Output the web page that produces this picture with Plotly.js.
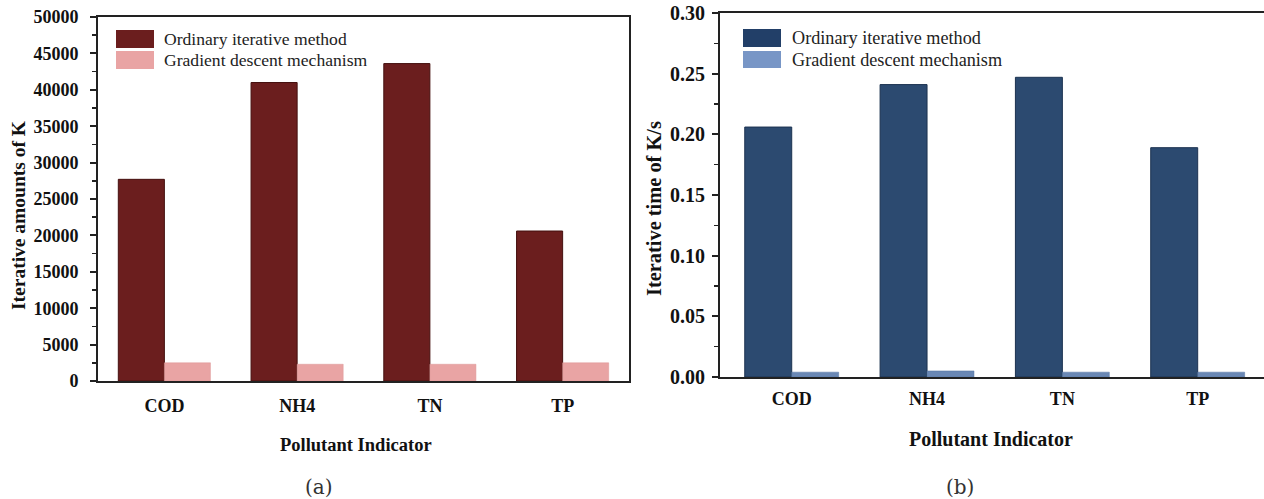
<!DOCTYPE html>
<html>
<head>
<meta charset="utf-8">
<script src="https://cdn.plot.ly/plotly-3.0.1.min.js"></script>
<style>
  html, body { margin: 0; padding: 0; background: #ffffff; overflow: hidden; }
  #chart { width: 1264px; height: 499px; }
</style>
</head>
<body>
<div id="chart"></div>
<script>
// ---------- data ----------
const categories = ['COD', 'NH4', 'TN', 'TP'];
const seriesNames = ['Ordinary iterative method', 'Gradient descent mechanism'];
const iterOrdinary = [27700, 41000, 43600, 20600];
const iterGradient = [2500, 2300, 2300, 2500];
const timeOrdinary = [0.206, 0.241, 0.247, 0.189];
const timeGradient = [0.004, 0.005, 0.004, 0.004];
const xTitle = 'Pollutant Indicator';
const yTitleA = 'Iterative amounts of K';
const yTitleB = 'Iterative time of K/s';
const panelLabels = ['(a)', '(b)'];

// ---------- geometry helpers (pixels -> paper) ----------
const W = 1264, H = 499;
const px = x => x / W;
const py = y => (H - y) / H;

const serif = "'Liberation Serif', 'Times New Roman', serif";
const colors = {
  redDark: '#6b1e1e', redDarkLine: '#45100f',
  pink: '#e9a4a4', pinkLine: '#dc9696',
  navy: '#2c4a70', navyLine: '#1c3250',
  blue: '#6a88b5', blueLine: '#5574a2'
};

const traces = [
  { type: 'bar', x: categories, y: iterOrdinary, name: seriesNames[0], xaxis: 'x', yaxis: 'y',
    marker: { color: colors.redDark, line: { color: colors.redDarkLine, width: 1 } }, showlegend: false },
  { type: 'bar', x: categories, y: iterGradient, name: seriesNames[1], xaxis: 'x', yaxis: 'y',
    marker: { color: colors.pink, line: { color: colors.pinkLine, width: 0.5 } }, showlegend: false },
  { type: 'bar', x: categories, y: timeOrdinary, name: seriesNames[0], xaxis: 'x2', yaxis: 'y2',
    marker: { color: colors.navy, line: { color: colors.navyLine, width: 1 } }, showlegend: false },
  { type: 'bar', x: categories, y: timeGradient, name: seriesNames[1], xaxis: 'x2', yaxis: 'y2',
    marker: { color: colors.blue, line: { color: colors.blueLine, width: 0.5 } }, showlegend: false }
];

const axisLine = { showline: true, linecolor: '#222', linewidth: 2, showgrid: false, zeroline: false };

const layout = {
  width: W, height: H,
  margin: { l: 0, r: 0, t: 0, b: 0 },
  paper_bgcolor: '#ffffff', plot_bgcolor: '#ffffff',
  barmode: 'group', bargap: 0.306, bargroupgap: 0,
  showlegend: false,
  xaxis: Object.assign({}, axisLine, {
    domain: [px(98), px(629)], anchor: 'y', range: [-0.5, 3.5], mirror: true,
    ticks: '', ticklabelstandoff: 7,
    tickfont: { family: serif, size: 18, color: '#111', weight: 'bold' }
  }),
  yaxis: Object.assign({}, axisLine, {
    domain: [py(381), py(17)], anchor: 'x', range: [0, 50000], mirror: true,
    tickmode: 'linear', tick0: 0, dtick: 5000, tickformat: 'd',
    ticks: 'outside', ticklen: 6, tickwidth: 2, tickcolor: '#222', ticklabelstandoff: 8,
    minor: { dtick: 2500, ticks: 'outside', ticklen: 4, tickwidth: 1.5, tickcolor: '#222' },
    tickfont: { family: serif, size: 18, color: '#111', weight: 'bold' }
  }),
  xaxis2: Object.assign({}, axisLine, {
    domain: [px(720), 1], anchor: 'y2', range: [-0.53, 3.49], mirror: true,
    ticks: '', ticklabelstandoff: 4,
    tickfont: { family: serif, size: 18, color: '#111', weight: 'bold' }
  }),
  yaxis2: Object.assign({}, axisLine, {
    domain: [py(377), py(13)], anchor: 'x2', range: [0, 0.30], mirror: false,
    tickmode: 'linear', tick0: 0, dtick: 0.05, tickformat: '.2f',
    ticks: 'outside', ticklen: 6, tickwidth: 2, tickcolor: '#222', ticklabelstandoff: 3,
    minor: { dtick: 0.025, ticks: 'outside', ticklen: 4, tickwidth: 1.5, tickcolor: '#222' },
    tickfont: { family: serif, size: 20, color: '#111', weight: 'bold' }
  }),
  shapes: [
    // legend swatches (a)
    { type: 'rect', xref: 'paper', yref: 'paper', x0: px(116), x1: px(154), y0: py(48), y1: py(30),
      fillcolor: colors.redDark, line: { width: 0 } },
    { type: 'rect', xref: 'paper', yref: 'paper', x0: px(116), x1: px(154), y0: py(69), y1: py(51),
      fillcolor: colors.pink, line: { width: 0 } },
    // legend swatches (b)
    { type: 'rect', xref: 'paper', yref: 'paper', x0: px(743), x1: px(781), y0: py(47), y1: py(29),
      fillcolor: '#223f68', line: { width: 0 } },
    { type: 'rect', xref: 'paper', yref: 'paper', x0: px(743), x1: px(781), y0: py(68), y1: py(51),
      fillcolor: '#7896c6', line: { width: 0 } }
  ],
  annotations: [
    { xref: 'paper', yref: 'paper', x: px(162), y: py(39), xanchor: 'left', yanchor: 'middle', showarrow: false,
      text: seriesNames[0], font: { family: serif, size: 17.6, color: '#222' } },
    { xref: 'paper', yref: 'paper', x: px(162), y: py(60), xanchor: 'left', yanchor: 'middle', showarrow: false,
      text: seriesNames[1], font: { family: serif, size: 17.6, color: '#222' } },
    { xref: 'paper', yref: 'paper', x: px(790), y: py(38), xanchor: 'left', yanchor: 'middle', showarrow: false,
      text: seriesNames[0], font: { family: serif, size: 18.2, color: '#222' } },
    { xref: 'paper', yref: 'paper', x: px(790), y: py(60), xanchor: 'left', yanchor: 'middle', showarrow: false,
      text: seriesNames[1], font: { family: serif, size: 18.2, color: '#222' } },
    // axis titles
    { xref: 'paper', yref: 'paper', x: px(356), y: py(445), xanchor: 'center', yanchor: 'middle', showarrow: false,
      text: xTitle, font: { family: serif, size: 18.5, color: '#111', weight: 'bold' } },
    { xref: 'paper', yref: 'paper', x: px(991), y: py(439), xanchor: 'center', yanchor: 'middle', showarrow: false,
      text: xTitle, font: { family: serif, size: 20, color: '#111', weight: 'bold' } },
    { xref: 'paper', yref: 'paper', x: px(18), y: py(215), xanchor: 'center', yanchor: 'middle', showarrow: false,
      textangle: -90, text: yTitleA, font: { family: serif, size: 19.5, color: '#111', weight: 'bold' } },
    { xref: 'paper', yref: 'paper', x: px(654), y: py(209), xanchor: 'center', yanchor: 'middle', showarrow: false,
      textangle: -90, text: yTitleB, font: { family: serif, size: 20.4, color: '#111', weight: 'bold' } },
    // panel labels
    { xref: 'paper', yref: 'paper', x: px(319), y: py(487), xanchor: 'center', yanchor: 'middle', showarrow: false,
      text: panelLabels[0], font: { family: 'DejaVu Serif, serif', size: 20, color: '#333' } },
    { xref: 'paper', yref: 'paper', x: px(960), y: py(487), xanchor: 'center', yanchor: 'middle', showarrow: false,
      text: panelLabels[1], font: { family: 'DejaVu Serif, serif', size: 20, color: '#333' } }
  ]
};

Plotly.newPlot('chart', traces, layout, { displayModeBar: false, staticPlot: true });
</script>
</body>
</html>
